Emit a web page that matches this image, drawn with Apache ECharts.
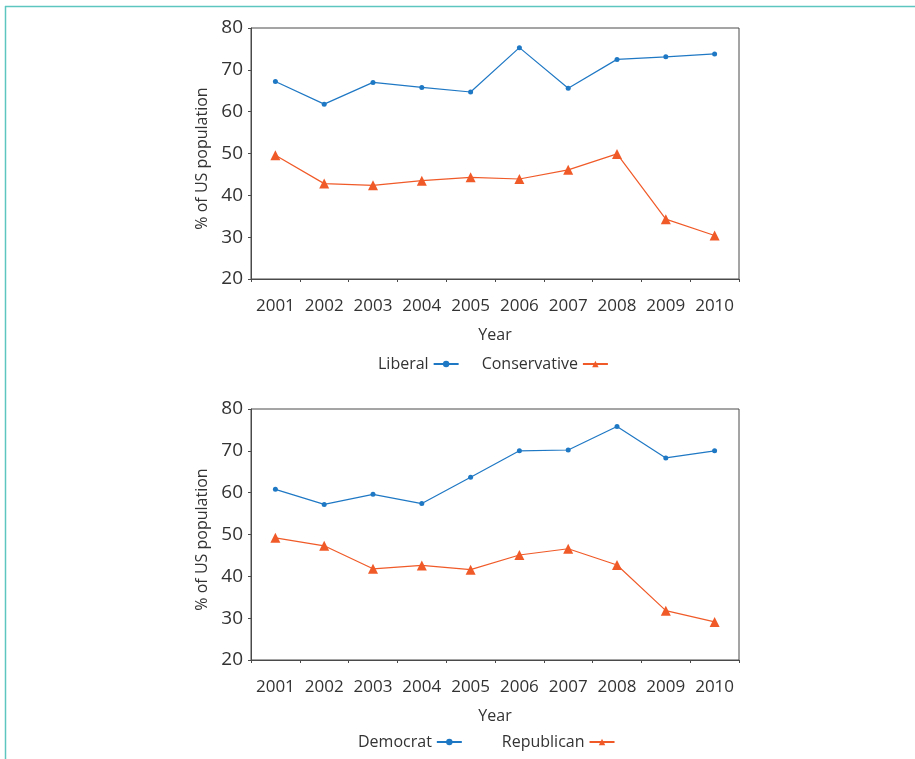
<!DOCTYPE html>
<html>
<head>
<meta charset="utf-8">
<title>Liberal/Conservative and Democrat/Republican shares, 2001–2010</title>
<script src="https://cdn.jsdelivr.net/npm/echarts@6/dist/echarts.min.js"></script>
<style>
  html, body { margin: 0; padding: 0; background: #fff; }
  #chart { width: 915px; height: 759px; }
</style>
</head>
<body>
<div id="chart"></div>
<script>
// Survey years shared by both panels
const years = ['2001', '2002', '2003', '2004', '2005', '2006', '2007', '2008', '2009', '2010'];

// Upper panel: ideology
const liberal      = [67.2, 61.8, 67.0, 65.8, 64.7, 75.3, 65.6, 72.5, 73.1, 73.8];
const conservative = [49.6, 42.8, 42.4, 43.5, 44.3, 43.9, 46.1, 49.9, 34.3, 30.4];

// Lower panel: party
const democrat   = [60.8, 57.2, 59.6, 57.4, 63.7, 70.0, 70.2, 75.8, 68.3, 70.0];
const republican = [49.2, 47.3, 41.8, 42.6, 41.6, 45.1, 46.6, 42.7, 31.8, 29.1];

// Value axis ticks
const yMin = 20, yMax = 80, yStep = 10;

const FONT = '"Open Sans", "Noto Sans", sans-serif';
const TEXT = '#333333';
const AXIS = '#4a4a4a';
const BLUE = '#1f78c4';
const ORANGE = '#f05a28';

function xAxisFor(gridIndex) {
  return {
    type: 'category',
    gridIndex: gridIndex,
    data: years,
    boundaryGap: true,
    name: 'Year',
    nameLocation: 'middle',
    nameGap: 48,
    nameTextStyle: { fontFamily: FONT, fontSize: 16, color: TEXT },
    axisLine: { show: true, lineStyle: { color: AXIS, width: 1 } },
    axisTick: { show: true, length: 3, inside: false, lineStyle: { color: AXIS } },
    axisLabel: { interval: 0, margin: 19, fontFamily: FONT, fontSize: 17, color: TEXT },
    splitLine: { show: false }
  };
}

function yAxisFor(gridIndex) {
  return {
    type: 'value',
    gridIndex: gridIndex,
    min: yMin,
    max: yMax,
    interval: yStep,
    name: '% of US population',
    nameLocation: 'middle',
    nameGap: 40,
    nameTextStyle: { fontFamily: FONT, fontSize: 16, color: TEXT, padding: [0, 10, 0, 0] },
    axisLine: { show: true, lineStyle: { color: AXIS, width: 1 } },
    axisTick: { show: true, length: 3, inside: false, lineStyle: { color: AXIS } },
    axisLabel: { margin: 8, fontFamily: FONT, fontSize: 19, color: TEXT },
    splitLine: { show: false }
  };
}

function lineSeries(name, values, gridIndex, color, symbol, size) {
  return {
    name: name,
    type: 'line',
    xAxisIndex: gridIndex,
    yAxisIndex: gridIndex,
    data: values,
    symbol: symbol,
    symbolSize: size,
    showAllSymbol: true,
    lineStyle: { color: color, width: 1.2 },
    itemStyle: { color: color },
    emphasis: { disabled: true },
    animation: false
  };
}

function legendFor(names, left, top, gap) {
  return {
    data: names,
    left: left,
    top: top,
    orient: 'horizontal',
    align: 'right',
    padding: 0,
    itemGap: gap,
    itemWidth: 25,
    itemHeight: 8,
    selectedMode: false,
    textStyle: { fontFamily: FONT, fontSize: 16, color: TEXT }
  };
}

const chart = echarts.init(document.getElementById('chart'), null, { renderer: 'canvas' });

chart.setOption({
  backgroundColor: '#ffffff',
  animation: false,
  grid: [
    { left: 251, top: 28, width: 488, height: 251, show: true, borderColor: AXIS, borderWidth: 1, backgroundColor: 'transparent' },
    { left: 251, top: 409, width: 488, height: 251, show: true, borderColor: AXIS, borderWidth: 1, backgroundColor: 'transparent' }
  ],
  xAxis: [xAxisFor(0), xAxisFor(1)],
  yAxis: [yAxisFor(0), yAxisFor(1)],
  legend: [
    legendFor(['Liberal', 'Conservative'], 378, 356, 22),
    legendFor(['Democrat', 'Republican'], 358, 734, 39)
  ],
  series: [
    lineSeries('Liberal', liberal, 0, BLUE, 'circle', 5),
    lineSeries('Conservative', conservative, 0, ORANGE, 'triangle', 10),
    lineSeries('Democrat', democrat, 1, BLUE, 'circle', 5),
    lineSeries('Republican', republican, 1, ORANGE, 'triangle', 10)
  ],
  graphic: [
    { type: 'line', shape: { x1: 5, y1: 6.5, x2: 915, y2: 6.5 }, style: { stroke: '#5cc6bf', lineWidth: 1.5 }, silent: true },
    { type: 'line', shape: { x1: 5.5, y1: 6, x2: 5.5, y2: 759 }, style: { stroke: '#5cc6bf', lineWidth: 1.5 }, silent: true }
  ]
});
</script>
</body>
</html>
